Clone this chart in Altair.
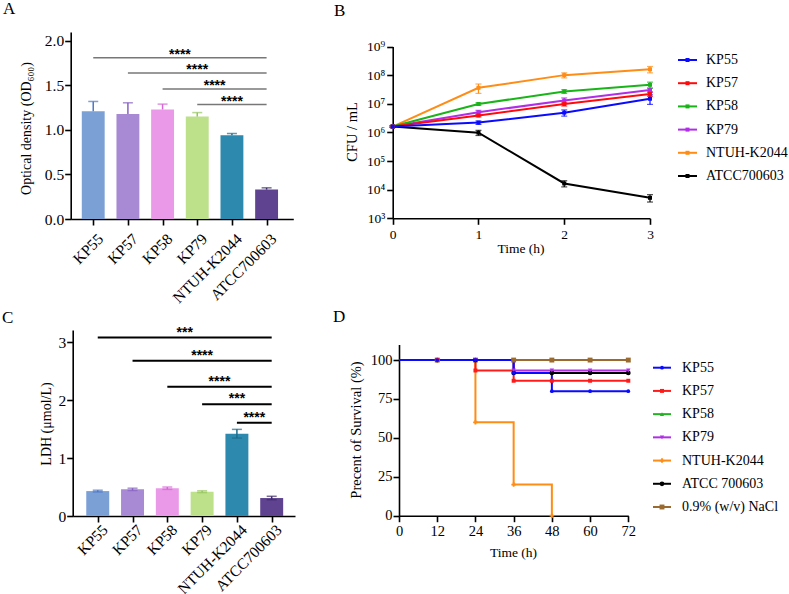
import json
import altair as alt
import pandas as pd

W, H = 789, 594
FONT = "Liberation Serif"
STAR_FONT = "Liberation Sans"

# ---------------- shared categories ----------------
strains = ["KP55", "KP57", "KP58", "KP79", "NTUH-K2044", "ATCC700603"]
bar_fill = ["#7BA0D6", "#A88AD4", "#EA98E8", "#BDE08B", "#2D8AAE", "#5F4390"]
bar_err = ["#4F78C4", "#8762C2", "#D765D5", "#96C45E", "#1C6C8C", "#3F2C6B"]

# ---------------- Panel A: OD600 ----------------
od_mean = [1.21, 1.18, 1.23, 1.15, 0.94, 0.33]
od_sd = [0.11, 0.125, 0.06, 0.045, 0.02, 0.02]
od_sig_from = ["KP55", "KP57", "KP58", "KP79"]
od_sig_level = [1.81, 1.64, 1.46, 1.285]
od_sig_text = ["****", "****", "****", "****"]
od_ticks = [0, 0.5, 1.0, 1.5, 2.0]

# ---------------- Panel C: LDH ----------------
ldh_mean = [0.43, 0.46, 0.48, 0.42, 1.42, 0.31]
ldh_sd = [0.015, 0.02, 0.02, 0.015, 0.075, 0.03]
ldh_sig_from = ["KP55", "KP57", "KP58", "KP79", "NTUH-K2044"]
ldh_sig_level = [3.08, 2.68, 2.23, 1.93, 1.61]
ldh_sig_text = ["***", "****", "****", "***", "****"]
ldh_ticks = [0, 1, 2, 3]

# ---------------- Panel B: growth (CFU/mL) ----------------
hours = [0, 1, 2, 3]
cfu_names = ["KP55", "KP57", "KP58", "KP79", "NTUH-K2044", "ATCC700603"]
cfu_colors = ["#0A0AFF", "#FF0A0A", "#18B418", "#B02EE6", "#FF8C14", "#000000"]
cfu_kp55 = [1.6e6, 2.2e6, 4.9e6, 1.5e7]
cfu_kp57 = [1.6e6, 3.9e6, 9.8e6, 2.2e7]
cfu_kp58 = [1.6e6, 9.8e6, 2.7e7, 4.6e7]
cfu_kp79 = [1.6e6, 5.1e6, 1.3e7, 3.0e7]
cfu_ntuh = [1.6e6, 3.6e7, 1.0e8, 1.6e8]
cfu_atcc = [1.6e6, 9.8e5, 1.65e4, 5.2e3]
sd_kp55 = [0.1e6, 0.3e6, 1.2e6, 0.55e7]
sd_kp57 = [0.1e6, 0.4e6, 1.5e6, 0.4e7]
sd_kp58 = [0.1e6, 1.0e6, 0.4e7, 1.1e7]
sd_kp79 = [0.1e6, 0.8e6, 0.3e7, 0.5e7]
sd_ntuh = [0.1e6, 1.3e7, 0.2e8, 0.4e8]
sd_atcc = [0.1e6, 2.0e5, 0.4e4, 1.5e3]
cfu_ticks = [1e3, 1e4, 1e5, 1e6, 1e7, 1e8, 1e9]

# ---------------- Panel D: survival ----------------
surv_time = [0, 12, 24, 36, 48, 60, 72]
surv_names = ["KP55", "KP57", "KP58", "KP79", "NTUH-K2044", "ATCC 700603", "0.9% (w/v) NaCl"]
surv_colors = ["#0A0AFF", "#FF1A1A", "#22B422", "#B02EE6", "#FF8C14", "#000000", "#9A6A2E"]
surv_shapes = ["circle", "square", "triangle-up", "triangle-down", "cross", "circle", "square"]
surv_sizes = [14, 24, 24, 24, 18, 36, 44]
surv_kp55 = [100, 100, 100, 91.7, 80, 80, 80]
surv_kp57 = [100, 100, 93.3, 86.7, 86.7, 86.7, 86.7]
surv_kp58 = [100, 100, 100, 100, 100, 100, 100]
surv_kp79 = [100, 100, 100, 93.3, 93.3, 93.3, 93.3]
surv_ntuh = [100, 100, 60, 20, 0, None, None]
surv_atcc = [100, 100, 100, 91.7, 91.7, 91.7, 91.7]
surv_nacl = [100, 100, 100, 100, 100, 100, 100]
surv_ticks_y = [0, 25, 50, 75, 100]
surv_ticks_x = [0, 12, 24, 36, 48, 60, 72]

# axis titles
titles = ["Optical density (OD₆₀₀)", "CFU / mL", "Time (h)", "LDH (μmol/L)",
          "Precent of Survival (%)", "Time (h)"]

AX = dict(labelFont=FONT, labelColor="black", title=None, grid=False,
          domainColor="black", domainWidth=1.6, tickColor="black", tickWidth=1.6, tickSize=6)


def bar_panel(mean, sd, sig_from, sig_level, sig_text, xdom, xrange, ydom, yrange,
              yvals, yfmt, x_off, y_off, both, sig_color, sig_width, star_dy, xlab_pad):
    df = pd.DataFrame({"strain": strains, "idx": list(range(len(strains))),
                       "mean": mean, "sd": sd})
    xs = alt.Scale(domain=xdom, range=xrange, nice=False, zero=False)
    ys = alt.Scale(domain=ydom, range=yrange, nice=False, zero=False)
    xaxis = alt.Axis(orient="bottom", offset=x_off, values=list(range(len(strains))),
                     labelExpr=json.dumps(strains) + "[datum.value]", labelAngle=-45,
                     labelOverlap=False, labelFlush=False, labelFontSize=15.5,
                     labelPadding=xlab_pad, labelOffset=2, **AX)
    yaxis = alt.Axis(orient="left", offset=y_off, values=yvals, format=yfmt,
                     labelFontSize=15.5, labelPadding=1, **AX)
    X = lambda f: alt.X(f, scale=xs, axis=xaxis)
    Y = lambda f: alt.Y(f, scale=ys, axis=yaxis)
    lo_expr = "datum.mean - datum.sd" if both else "datum.mean"
    base = alt.Chart(df).transform_calculate(
        x0="datum.idx - 0.33", x1="datum.idx + 0.33",
        lo=lo_expr, hi="datum.mean + datum.sd")
    bars = base.mark_bar().encode(
        x=X("x0:Q"), x2="x1:Q", y=Y("mean:Q"), y2=alt.datum(0),
        color=alt.Color("strain:N", scale=alt.Scale(domain=strains, range=bar_fill), legend=None))
    errs = base.mark_rule(strokeWidth=1.5).encode(
        x=X("idx:Q"), y=Y("lo:Q"), y2="hi:Q",
        stroke=alt.Stroke("strain:N", scale=alt.Scale(domain=strains, range=bar_err), legend=None))
    capf = alt.Fill("strain:N", scale=alt.Scale(domain=strains, range=bar_err), legend=None)
    cap_hi = base.mark_tick(orient="horizontal", size=10, thickness=1.5).encode(
        x=X("idx:Q"), y=Y("hi:Q"), fill=capf)
    layers = [bars, errs, cap_hi]
    if both:
        cap_lo = base.mark_tick(orient="horizontal", size=10, thickness=1.5).encode(
            x=X("idx:Q"), y=Y("lo:Q"), fill=capf)
        layers.append(cap_lo)
    last = len(strains) - 1
    sig = pd.DataFrame({"a": [strains.index(s) for s in sig_from],
                        "level": sig_level, "txt": sig_text})
    sbase = alt.Chart(sig).transform_calculate(b=str(last), mid="(datum.a + %d) / 2" % last)
    rules = sbase.mark_rule(color=sig_color, strokeWidth=sig_width).encode(
        x=X("a:Q"), x2="b:Q", y=Y("level:Q"))
    stars = sbase.mark_text(font=STAR_FONT, fontSize=14, fontWeight="bold",
                            baseline="alphabetic", dy=star_dy, color="black").encode(
        x=X("mid:Q"), y=Y("level:Q"), text="txt:N")
    layers += [rules, stars]
    return alt.layer(*layers)


panelA = bar_panel(od_mean, od_sd, od_sig_from, od_sig_level, od_sig_text,
                   [-0.65, 5.77], [70.7, 293.3], [0, 2.1], [219, 32],
                   od_ticks, ".1f", 219 - H, -70.7, False, "#777777", 1.5, 1, 6)
panelC = bar_panel(ldh_mean, ldh_sd, ldh_sig_from, ldh_sig_level, ldh_sig_text,
                   [-0.72, 5.67], [72.7, 295], [0, 3.21], [516, 330],
                   ldh_ticks, "d", 516 - H, -72.7, True, "#000000", 2, -1, 0)

# ---------------- Panel B ----------------
cfu_mean_lists = [cfu_kp55, cfu_kp57, cfu_kp58, cfu_kp79, cfu_ntuh, cfu_atcc]
cfu_sd_lists = [sd_kp55, sd_kp57, sd_kp58, sd_kp79, sd_ntuh, sd_atcc]
rowsB = []
for name, m, s in reversed(list(zip(cfu_names, cfu_mean_lists, cfu_sd_lists))):
    for t, mv, sv in zip(hours, m, s):
        rowsB.append({"strain": name, "t": t, "mean": mv, "sd": sv})
dfB = pd.DataFrame(rowsB)
xsB = alt.Scale(domain=[0, 3], range=[392.7, 650], nice=False, zero=False)
ysB = alt.Scale(type="log", domain=[1e3, 1e9], range=[218.3, 46.5], nice=False)
sup = json.dumps(["⁰", "¹", "²", "³", "⁴", "⁵", "⁶", "⁷", "⁸", "⁹"], ensure_ascii=False)
axB_x = alt.Axis(orient="bottom", offset=218.3 - H, values=hours,
                 labelFontSize=13.5, labelFlush=False, labelPadding=3, **AX)
axB_y = alt.Axis(orient="left", offset=-392.7, values=cfu_ticks,
                 labelExpr="'10' + " + sup + "[round(log(datum.value) / LN10)]",
                 labelFontSize=13.5, labelPadding=2, **AX)
colB = alt.Color("strain:N", scale=alt.Scale(domain=cfu_names, range=cfu_colors), legend=None)
XB = alt.X("t:Q", scale=xsB, axis=axB_x)
baseB = alt.Chart(dfB).transform_calculate(lo="datum.mean - datum.sd", hi="datum.mean + datum.sd")
linesB = baseB.mark_line(strokeWidth=2).encode(x=XB, y=alt.Y("mean:Q", scale=ysB, axis=axB_y), color=colB)
ptsB = baseB.mark_point(filled=True, size=16, opacity=1, shape="square").encode(
    x=XB, y=alt.Y("mean:Q", scale=ysB, axis=axB_y), color=colB)
errB = baseB.mark_rule(strokeWidth=1.2).encode(
    x=XB, y=alt.Y("lo:Q", scale=ysB, axis=axB_y), y2="hi:Q", color=colB)
capB1 = baseB.mark_tick(orient="horizontal", size=6, thickness=1.2).encode(
    x=XB, y=alt.Y("hi:Q", scale=ysB, axis=axB_y), color=colB)
capB2 = baseB.mark_tick(orient="horizontal", size=6, thickness=1.2).encode(
    x=XB, y=alt.Y("lo:Q", scale=ysB, axis=axB_y), color=colB)
panelB = alt.layer(errB, capB1, capB2, linesB, ptsB)

# ---------------- Panel D ----------------
surv_lists = [surv_kp55, surv_kp57, surv_kp58, surv_kp79, surv_ntuh, surv_atcc, surv_nacl]
draw_order = ["KP58", "0.9% (w/v) NaCl", "ATCC 700603", "NTUH-K2044", "KP79", "KP57", "KP55"]
rowsD = []
for name in draw_order:
    vals = surv_lists[surv_names.index(name)]
    for t, v in zip(surv_time, vals):
        if v is not None:
            rowsD.append({"group": name, "t": t, "s": v})
dfD = pd.DataFrame(rowsD)
xsD = alt.Scale(domain=[0, 72], range=[399, 628.3], nice=False, zero=False)
ysD = alt.Scale(domain=[0, 110], range=[515.7, 344.5], nice=False, zero=False)
axD_x = alt.Axis(orient="bottom", offset=515.7 - H, values=surv_ticks_x,
                 labelFontSize=14.5, labelFlush=False, labelPadding=3, **AX)
axD_y = alt.Axis(orient="left", offset=-399, values=surv_ticks_y,
                 labelFontSize=14.5, labelPadding=1, **AX)
colD = alt.Color("group:N", scale=alt.Scale(domain=surv_names, range=surv_colors), legend=None)
shpD = alt.Shape("group:N", scale=alt.Scale(domain=surv_names, range=surv_shapes), legend=None)
sizD = alt.Size("group:N", scale=alt.Scale(domain=surv_names, range=surv_sizes), legend=None)
XD = alt.X("t:Q", scale=xsD, axis=axD_x)
YD = alt.Y("s:Q", scale=ysD, axis=axD_y)
linesD = alt.Chart(dfD).mark_line(strokeWidth=2, interpolate="step-after").encode(
    x=XD, y=YD, color=colD)
ptsD = alt.Chart(dfD).transform_filter("datum.t > 0").mark_point(filled=True, opacity=1).encode(
    x=XD, y=YD, color=colD, shape=shpD, size=sizD)
panelD = alt.layer(linesD, ptsD)

# ---------------- Legends ----------------
def legend(names, colors, shapes, sizes, y0, y1, xl0, xl1, xt):
    df = pd.DataFrame({"name": names})
    Yl = alt.Y("name:N", scale=alt.Scale(type="point", domain=names, range=[y0, y1], padding=0), axis=None)
    c = alt.Color("name:N", scale=alt.Scale(domain=names, range=colors), legend=None)
    r = alt.Chart(df).mark_rule(strokeWidth=2).encode(
        x=alt.value(xl0), x2=alt.value(xl1), y=Yl, color=c)
    p = alt.Chart(df).mark_point(filled=True, opacity=1).encode(
        x=alt.value((xl0 + xl1) / 2), y=Yl, color=c,
        shape=alt.Shape("name:N", scale=alt.Scale(domain=names, range=shapes), legend=None),
        size=alt.Size("name:N", scale=alt.Scale(domain=names, range=sizes), legend=None))
    t = alt.Chart(df).mark_text(align="left", baseline="middle", font=FONT, fontSize=14,
                                color="black").encode(x=alt.value(xt), y=Yl, text="name:N")
    return alt.layer(r, p, t)


legB = legend(cfu_names, cfu_colors, ["square"] * 6, [16] * 6, 60, 176, 678, 697, 706)
legD = legend(surv_names, surv_colors, surv_shapes, surv_sizes, 367.7, 507, 653, 671, 682)


# ---------------- Free text: panel letters and axis titles ----------------
def label(txt, x, y, size, angle=0, align="left", baseline="alphabetic"):
    return alt.Chart(pd.DataFrame({"l": [txt]})).mark_text(
        font=FONT, fontSize=size, align=align, baseline=baseline, angle=angle,
        color="black").encode(x=alt.value(x), y=alt.value(y), text="l:N")


texts = [
    label("A", 3, 14, 17), label("B", 334, 16, 17),
    label("C", 2, 323, 17), label("D", 333, 322, 17),
    label(titles[0], 27, 128.5, 14, 270, "center", "middle"),
    label(titles[1], 353, 132, 14.5, 270, "center", "middle"),
    label(titles[2], 521, 253, 13.5, 0, "center"),
    label(titles[3], 47, 424, 14, 270, "center", "middle"),
    label(titles[4], 357, 430, 14.5, 270, "center", "middle"),
    label(titles[5], 513.5, 557, 13.5, 0, "center"),
]

chart = alt.layer(panelA, panelC, panelB, panelD, legB, legD, *texts).resolve_scale(
    x="independent", y="independent", color="independent", fill="independent",
    stroke="independent", shape="independent", size="independent"
).properties(
    width=W, height=H, autosize=alt.AutoSizeParams(type="none"), padding=0
).configure_view(stroke=None).configure_axis(
    grid=False, domainColor="black", domainWidth=1.6, tickColor="black", tickWidth=1.6,
    tickSize=6, labelFont=FONT, labelColor="black"
)

chart.save("out.html", embed_options={"renderer": "svg", "actions": False})
